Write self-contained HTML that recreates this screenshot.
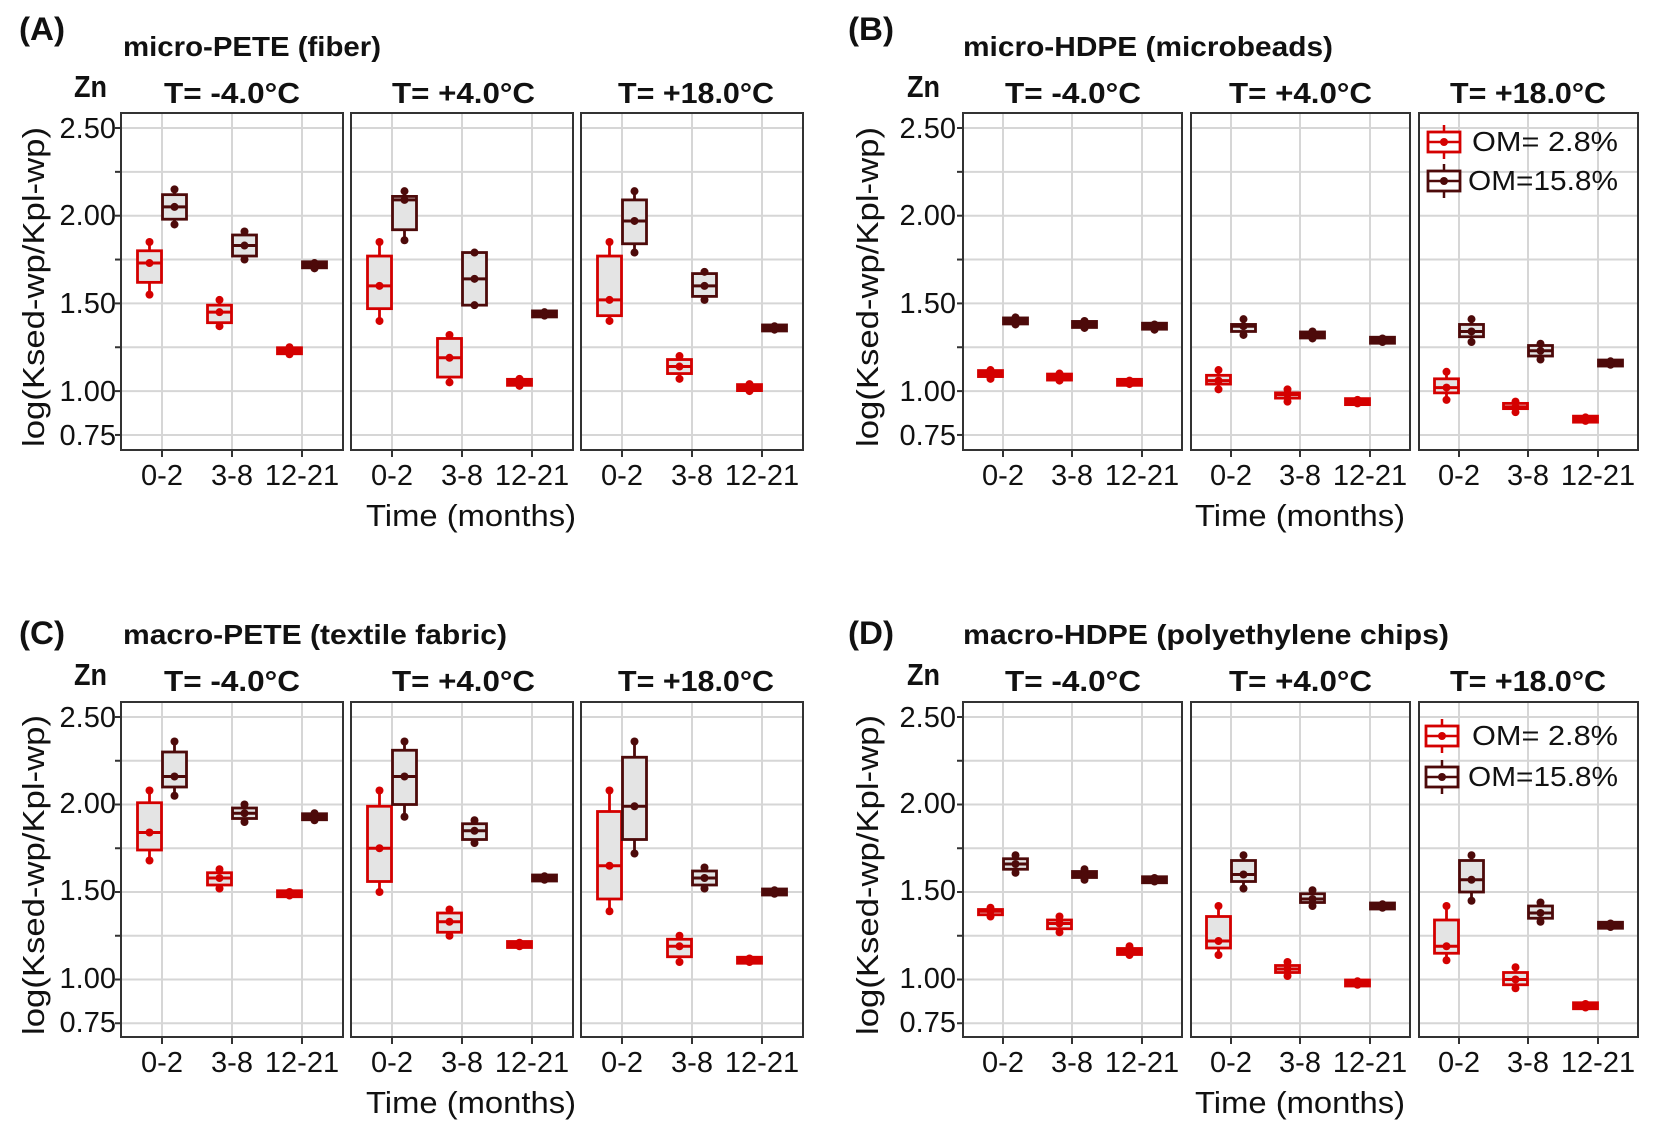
<!DOCTYPE html>
<html><head><meta charset="utf-8"><style>
html,body{margin:0;padding:0;background:#fff;}
svg{display:block;font-family:"Liberation Sans",sans-serif;}
.b{font-weight:bold;}
</style></head><body>
<svg id="s" width="1654" height="1133" viewBox="0 0 1654 1133" xmlns="http://www.w3.org/2000/svg">
<rect width="1654" height="1133" fill="#fff"/>
<g id="grid"></g>
<g id="boxes"></g>
<g fill="#111">
<!-- Panel A -->
<text class="b" x="19" y="40" font-size="32" textLength="46" lengthAdjust="spacingAndGlyphs">(A)</text>
<text class="b" x="123" y="56" font-size="28" textLength="258" lengthAdjust="spacingAndGlyphs">micro-PETE  (fiber)</text>
<text class="b" x="74" y="97" font-size="31" textLength="33" lengthAdjust="spacingAndGlyphs">Zn</text>
<text class="b" x="164" y="103" font-size="29" textLength="136" lengthAdjust="spacingAndGlyphs">T= -4.0°C</text>
<text class="b" x="392" y="103" font-size="29" textLength="143" lengthAdjust="spacingAndGlyphs">T= +4.0°C</text>
<text class="b" x="618" y="103" font-size="29" textLength="156" lengthAdjust="spacingAndGlyphs">T= +18.0°C</text>
<g font-size="29" text-anchor="end">
<text x="116" y="138">2.50</text><text x="116" y="225">2.00</text><text x="116" y="313">1.50</text><text x="116" y="401">1.00</text><text x="116" y="445">0.75</text></g>
<text transform="translate(44,287) rotate(-90)" font-size="31" text-anchor="middle" textLength="320" lengthAdjust="spacingAndGlyphs">log(Ksed-wp/Kpl-wp)</text>
<g font-size="29" text-anchor="middle">
<text x="162" y="485">0-2</text><text x="232" y="485">3-8</text><text x="302" y="485">12-21</text>
<text x="392" y="485">0-2</text><text x="462" y="485">3-8</text><text x="532" y="485">12-21</text>
<text x="622" y="485">0-2</text><text x="692" y="485">3-8</text><text x="762" y="485">12-21</text>
<text x="471" y="526" font-size="31" textLength="210" lengthAdjust="spacingAndGlyphs">Time (months)</text></g>
<!-- Panel B -->
<text class="b" x="848" y="40" font-size="32" textLength="46" lengthAdjust="spacingAndGlyphs">(B)</text>
<text class="b" x="963" y="56" font-size="28" textLength="370" lengthAdjust="spacingAndGlyphs">micro-HDPE  (microbeads)</text>
<text class="b" x="907" y="97" font-size="31" textLength="33" lengthAdjust="spacingAndGlyphs">Zn</text>
<text class="b" x="1005" y="103" font-size="29" textLength="136" lengthAdjust="spacingAndGlyphs">T= -4.0°C</text>
<text class="b" x="1229" y="103" font-size="29" textLength="143" lengthAdjust="spacingAndGlyphs">T= +4.0°C</text>
<text class="b" x="1450" y="103" font-size="29" textLength="156" lengthAdjust="spacingAndGlyphs">T= +18.0°C</text>
<g font-size="29" text-anchor="end">
<text x="956" y="138">2.50</text><text x="956" y="225">2.00</text><text x="956" y="313">1.50</text><text x="956" y="401">1.00</text><text x="956" y="445">0.75</text></g>
<text transform="translate(878,287) rotate(-90)" font-size="31" text-anchor="middle" textLength="320" lengthAdjust="spacingAndGlyphs">log(Ksed-wp/Kpl-wp)</text>
<g font-size="29" text-anchor="middle">
<text x="1003" y="485">0-2</text><text x="1072" y="485">3-8</text><text x="1142" y="485">12-21</text>
<text x="1231" y="485">0-2</text><text x="1300" y="485">3-8</text><text x="1370" y="485">12-21</text>
<text x="1459" y="485">0-2</text><text x="1528" y="485">3-8</text><text x="1598" y="485">12-21</text>
<text x="1300" y="526" font-size="31" textLength="210" lengthAdjust="spacingAndGlyphs">Time (months)</text></g>
<!-- Panel C -->
<text class="b" x="19" y="644" font-size="32" textLength="46" lengthAdjust="spacingAndGlyphs">(C)</text>
<text class="b" x="123" y="644" font-size="28" textLength="384" lengthAdjust="spacingAndGlyphs">macro-PETE  (textile fabric)</text>
<text class="b" x="74" y="685" font-size="31" textLength="33" lengthAdjust="spacingAndGlyphs">Zn</text>
<text class="b" x="164" y="691" font-size="29" textLength="136" lengthAdjust="spacingAndGlyphs">T= -4.0°C</text>
<text class="b" x="392" y="691" font-size="29" textLength="143" lengthAdjust="spacingAndGlyphs">T= +4.0°C</text>
<text class="b" x="618" y="691" font-size="29" textLength="156" lengthAdjust="spacingAndGlyphs">T= +18.0°C</text>
<g font-size="29" text-anchor="end">
<text x="116" y="727">2.50</text><text x="116" y="813">2.00</text><text x="116" y="900">1.50</text><text x="116" y="988">1.00</text><text x="116" y="1032">0.75</text></g>
<text transform="translate(44,875) rotate(-90)" font-size="31" text-anchor="middle" textLength="320" lengthAdjust="spacingAndGlyphs">log(Ksed-wp/Kpl-wp)</text>
<g font-size="29" text-anchor="middle">
<text x="162" y="1072">0-2</text><text x="232" y="1072">3-8</text><text x="302" y="1072">12-21</text>
<text x="392" y="1072">0-2</text><text x="462" y="1072">3-8</text><text x="532" y="1072">12-21</text>
<text x="622" y="1072">0-2</text><text x="692" y="1072">3-8</text><text x="762" y="1072">12-21</text>
<text x="471" y="1113" font-size="31" textLength="210" lengthAdjust="spacingAndGlyphs">Time (months)</text></g>
<!-- Panel D -->
<text class="b" x="848" y="644" font-size="32" textLength="46" lengthAdjust="spacingAndGlyphs">(D)</text>
<text class="b" x="963" y="644" font-size="28" textLength="486" lengthAdjust="spacingAndGlyphs">macro-HDPE  (polyethylene chips)</text>
<text class="b" x="907" y="685" font-size="31" textLength="33" lengthAdjust="spacingAndGlyphs">Zn</text>
<text class="b" x="1005" y="691" font-size="29" textLength="136" lengthAdjust="spacingAndGlyphs">T= -4.0°C</text>
<text class="b" x="1229" y="691" font-size="29" textLength="143" lengthAdjust="spacingAndGlyphs">T= +4.0°C</text>
<text class="b" x="1450" y="691" font-size="29" textLength="156" lengthAdjust="spacingAndGlyphs">T= +18.0°C</text>
<g font-size="29" text-anchor="end">
<text x="956" y="727">2.50</text><text x="956" y="813">2.00</text><text x="956" y="900">1.50</text><text x="956" y="988">1.00</text><text x="956" y="1032">0.75</text></g>
<text transform="translate(878,875) rotate(-90)" font-size="31" text-anchor="middle" textLength="320" lengthAdjust="spacingAndGlyphs">log(Ksed-wp/Kpl-wp)</text>
<g font-size="29" text-anchor="middle">
<text x="1003" y="1072">0-2</text><text x="1072" y="1072">3-8</text><text x="1142" y="1072">12-21</text>
<text x="1231" y="1072">0-2</text><text x="1300" y="1072">3-8</text><text x="1370" y="1072">12-21</text>
<text x="1459" y="1072">0-2</text><text x="1528" y="1072">3-8</text><text x="1598" y="1072">12-21</text>
<text x="1300" y="1113" font-size="31" textLength="210" lengthAdjust="spacingAndGlyphs">Time (months)</text></g>
<!-- legends -->
<g font-size="28">
<text x="1472" y="151" textLength="146" lengthAdjust="spacingAndGlyphs">OM=  2.8%</text>
<text x="1468" y="190" textLength="150" lengthAdjust="spacingAndGlyphs">OM=15.8%</text>
<text x="1472" y="745" textLength="146" lengthAdjust="spacingAndGlyphs">OM=  2.8%</text>
<text x="1468" y="786" textLength="150" lengthAdjust="spacingAndGlyphs">OM=15.8%</text>
</g>
</g>
</svg>
<script>
(function(){
var NS="http://www.w3.org/2000/svg";
var G=document.getElementById("grid"),B=document.getElementById("boxes");
function el(p,t,a){var e=document.createElementNS(NS,t);for(var k in a)e.setAttribute(k,a[k]);p.appendChild(e);return e;}
var RED="#d40000",DK="#4d0a0a";
var panels=[
 {fx:[121,351,581],fw:222,off:[41,111,181],y0:128,k:175.4,top:113,bot:450,axx:121},
 {fx:[963,1191,1419],fw:219,off:[40,109,179],y0:128,k:175.4,top:113,bot:450,axx:963},
 {fx:[121,351,581],fw:222,off:[41,111,181],y0:717,k:175,top:702,bot:1037,axx:121},
 {fx:[963,1191,1419],fw:219,off:[40,109,179],y0:717,k:175,top:702,bot:1037,axx:963}
];
var D=[
[[[[1.62,1.73,1.80,1.55,1.85],[1.98,2.05,2.12,1.95,2.15]],[[1.39,1.45,1.49,1.37,1.52],[1.77,1.83,1.89,1.75,1.91]],[[1.22,1.23,1.24,1.21,1.25],[1.71,1.72,1.73,1.70,1.73]]],
 [[[1.47,1.60,1.77,1.40,1.85],[1.92,2.09,2.11,1.86,2.14]],[[1.08,1.19,1.30,1.05,1.32],[1.49,1.64,1.79,1.49,1.79]],[[1.04,1.05,1.06,1.03,1.07],[1.43,1.44,1.45,1.43,1.45]]],
 [[[1.43,1.52,1.77,1.40,1.85],[1.84,1.97,2.09,1.79,2.14]],[[1.10,1.14,1.18,1.07,1.20],[1.54,1.60,1.67,1.52,1.68]],[[1.01,1.02,1.03,1.00,1.04],[1.35,1.36,1.37,1.35,1.37]]]],
[[[[1.09,1.10,1.11,1.07,1.12],[1.39,1.40,1.41,1.38,1.42]],[[1.07,1.08,1.09,1.06,1.10],[1.37,1.38,1.39,1.36,1.40]],[[1.04,1.05,1.06,1.04,1.06],[1.36,1.37,1.38,1.35,1.38]]],
 [[[1.04,1.06,1.09,1.01,1.12],[1.34,1.37,1.38,1.32,1.41]],[[0.96,0.98,0.99,0.94,1.01],[1.31,1.32,1.33,1.30,1.34]],[[0.93,0.94,0.95,0.93,0.95],[1.28,1.29,1.30,1.28,1.30]]],
 [[[0.99,1.02,1.07,0.95,1.11],[1.31,1.34,1.38,1.28,1.41]],[[0.90,0.91,0.93,0.88,0.94],[1.20,1.23,1.26,1.18,1.27]],[[0.83,0.84,0.85,0.83,0.85],[1.15,1.16,1.17,1.15,1.17]]]],
[[[[1.74,1.84,2.01,1.68,2.08],[2.10,2.16,2.30,2.05,2.36]],[[1.54,1.58,1.61,1.52,1.63],[1.92,1.95,1.98,1.90,2.00]],[[1.48,1.49,1.50,1.48,1.50],[1.92,1.93,1.94,1.91,1.95]]],
 [[[1.56,1.75,1.99,1.50,2.08],[2.00,2.16,2.31,1.93,2.36]],[[1.27,1.33,1.38,1.25,1.40],[1.80,1.85,1.89,1.78,1.91]],[[1.19,1.20,1.21,1.19,1.21],[1.57,1.58,1.59,1.57,1.59]]],
 [[[1.46,1.65,1.96,1.39,2.08],[1.80,1.99,2.27,1.72,2.36]],[[1.13,1.19,1.23,1.10,1.25],[1.54,1.58,1.62,1.52,1.64]],[[1.10,1.11,1.12,1.10,1.12],[1.49,1.50,1.51,1.49,1.51]]]],
[[[[1.37,1.39,1.40,1.36,1.41],[1.63,1.66,1.69,1.61,1.71]],[[1.29,1.32,1.34,1.27,1.36],[1.59,1.60,1.61,1.57,1.63]],[[1.15,1.16,1.17,1.14,1.19],[1.56,1.57,1.58,1.56,1.58]]],
 [[[1.18,1.22,1.36,1.14,1.42],[1.56,1.60,1.68,1.52,1.71]],[[1.04,1.06,1.08,1.02,1.10],[1.44,1.46,1.49,1.42,1.51]],[[0.97,0.98,0.99,0.97,0.99],[1.41,1.42,1.43,1.41,1.43]]],
 [[[1.15,1.19,1.34,1.11,1.42],[1.50,1.57,1.68,1.45,1.71]],[[0.97,1.00,1.04,0.95,1.07],[1.35,1.38,1.42,1.33,1.44]],[[0.84,0.85,0.86,0.84,0.86],[1.30,1.31,1.32,1.30,1.32]]]]
];
var ticks=[2.5,2.25,2,1.75,1.5,1.25,1,0.75];
panels.forEach(function(P,pi){
  function Y(v){return P.y0+(2.5-v)*P.k;}
  P.fx.forEach(function(fx,fi){
    ticks.forEach(function(t){el(G,"line",{x1:fx,x2:fx+P.fw,y1:Y(t),y2:Y(t),stroke:"#d6d6d6","stroke-width":2});});
    P.off.forEach(function(o){el(G,"line",{x1:fx+o,x2:fx+o,y1:P.top,y2:P.bot,stroke:"#d6d6d6","stroke-width":2});
      el(G,"line",{x1:fx+o,x2:fx+o,y1:P.bot,y2:P.bot+7,stroke:"#333","stroke-width":2});});
    el(G,"rect",{x:fx,y:P.top,width:P.fw,height:P.bot-P.top,fill:"none",stroke:"#333","stroke-width":2});
    P.off.forEach(function(o,ci){
      var d=D[pi][fi][ci];
      [[d[0],RED,-12.5],[d[1],DK,12.5]].forEach(function(s){
        var v=s[0],c=s[1],cx=fx+o+s[2],w=24;
        el(B,"line",{x1:cx,x2:cx,y1:Y(v[4]),y2:Y(v[3]),stroke:c,"stroke-width":2.8});
        var y1=Y(v[2]),y2=Y(v[0]),flat=false;if(y2-y1<5){y1=Y(v[1])-3;y2=Y(v[1])+3;flat=true;}
        el(B,"rect",{x:cx-w/2,y:y1,width:w,height:y2-y1,fill:flat?c:"#e4e4e4",stroke:c,"stroke-width":2.8});
        el(B,"line",{x1:cx-w/2,x2:cx+w/2,y1:Y(v[1]),y2:Y(v[1]),stroke:c,"stroke-width":3});
        [v[3],v[1],v[4]].forEach(function(p){el(B,"circle",{cx:cx,cy:Y(p),r:4,fill:c});});
      });
    });
  });
  ticks.forEach(function(t){el(G,"line",{x1:P.axx-6,x2:P.axx,y1:Y(t),y2:Y(t),stroke:"#333","stroke-width":2});});
});
function leg(x,y,c){
  el(B,"line",{x1:x+16,x2:x+16,y1:y-17,y2:y+17,stroke:c,"stroke-width":2.5});
  el(B,"rect",{x:x,y:y-10,width:32,height:20,fill:"#fff",stroke:c,"stroke-width":2.8});
  el(B,"line",{x1:x,x2:x+32,y1:y,y2:y,stroke:c,"stroke-width":2.5});
  el(B,"circle",{cx:x+16,cy:y,r:4,fill:c});
}
leg(1428,142,RED);leg(1428,181,DK);leg(1426,736,RED);leg(1426,777,DK);
})();
</script>
</body></html>
